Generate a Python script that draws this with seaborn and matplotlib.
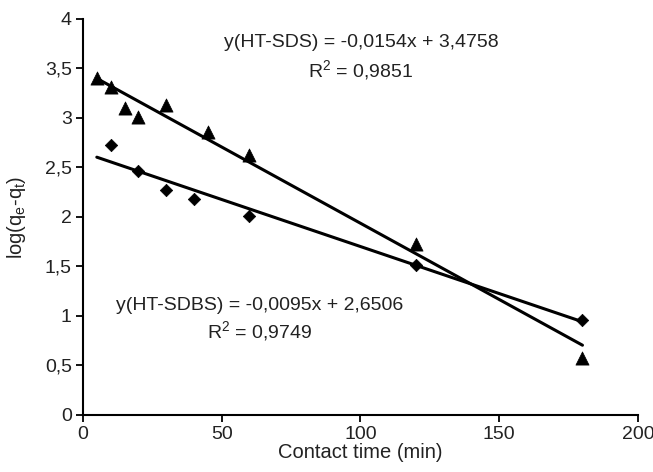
import matplotlib
matplotlib.use("Agg")
import matplotlib.pyplot as plt
import seaborn as sns
import numpy as np
import pandas as pd

# Data
time_sds = [5, 10, 15, 20, 30, 45, 60, 120, 180]
log_sds = [3.40, 3.31, 3.10, 3.01, 3.13, 2.86, 2.63, 1.73, 0.57]
time_sdbs = [10, 20, 30, 40, 60, 120, 180]
log_sdbs = [2.73, 2.46, 2.27, 2.18, 2.01, 1.515, 0.96]

# Trendline coefficients printed on the chart
slope_sds, intercept_sds = -0.0154, 3.4758
slope_sdbs, intercept_sdbs = -0.0095, 2.6506
trend_x = [5, 180]

x_ticks = [0, 50, 100, 150, 200]
x_labels = ["0", "50", "100", "150", "200"]
y_ticks = [0, 0.5, 1, 1.5, 2, 2.5, 3, 3.5, 4]
y_labels = ["0", "0,5", "1", "1,5", "2", "2,5", "3", "3,5", "4"]

sns.set_theme(style="white")
plt.rcParams['font.family'] = ['Liberation Sans', 'DejaVu Sans']

fig = plt.figure(figsize=(6.53, 4.72), dpi=100)
ax = fig.add_axes([0.127, 0.121, 0.850, 0.839])

df_sds = pd.DataFrame({"t": time_sds, "y": log_sds})
df_sdbs = pd.DataFrame({"t": time_sdbs, "y": log_sdbs})

tx = np.array(trend_x, dtype=float)
df_line_sds = pd.DataFrame({"t": tx, "y": slope_sds * tx + intercept_sds})
df_line_sdbs = pd.DataFrame({"t": tx, "y": slope_sdbs * tx + intercept_sdbs})

sns.lineplot(data=df_line_sds, x="t", y="y", ax=ax, color="black", linewidth=2.2)
sns.lineplot(data=df_line_sdbs, x="t", y="y", ax=ax, color="black", linewidth=2.2)
sns.scatterplot(data=df_sds, x="t", y="y", ax=ax, marker="^", s=90, color="black",
                edgecolor="black", linewidth=0.5, zorder=5)
sns.scatterplot(data=df_sdbs, x="t", y="y", ax=ax, marker="D", s=40, color="black",
                edgecolor="black", linewidth=0.5, zorder=5)

ax.set_xlim(0, 200)
ax.set_ylim(0, 4)
ax.set_xticks(x_ticks)
ax.set_xticklabels(x_labels)
ax.set_yticks(y_ticks)
ax.set_yticklabels(y_labels)
ax.tick_params(axis="both", which="major", direction="out", length=5, width=1.3,
               color="black", labelsize=14, labelcolor="#222222",
               bottom=True, left=True)
ax.tick_params(axis="x", pad=3)
ax.tick_params(axis="y", pad=3)
for side in ["top", "right"]:
    ax.spines[side].set_visible(False)
for side in ["left", "bottom"]:
    ax.spines[side].set_color("black")
    ax.spines[side].set_linewidth(1.5)

ax.set_xlabel("Contact time (min)", fontsize=14.5, color="#222222", labelpad=0)
ax.set_ylabel("log(q$_\\mathregular{e}$-q$_\\mathregular{t}$)", fontsize=14.5, color="#222222", labelpad=12)

ax.text(100.2, 3.76, "y(HT-SDS) = -0,0154x + 3,4758", fontsize=14, ha="center", va="center", color="#222222")
ax.text(100, 3.48, "R$^\\mathregular{2}$ = 0,9851", fontsize=14, ha="center", va="center", color="#222222")
ax.text(63.6, 1.10, "y(HT-SDBS) = -0,0095x + 2,6506", fontsize=14, ha="center", va="center", color="#222222")
ax.text(63.8, 0.84, "R$^\\mathregular{2}$ = 0,9749", fontsize=14, ha="center", va="center", color="#222222")

fig.savefig("out.png", dpi=100)
